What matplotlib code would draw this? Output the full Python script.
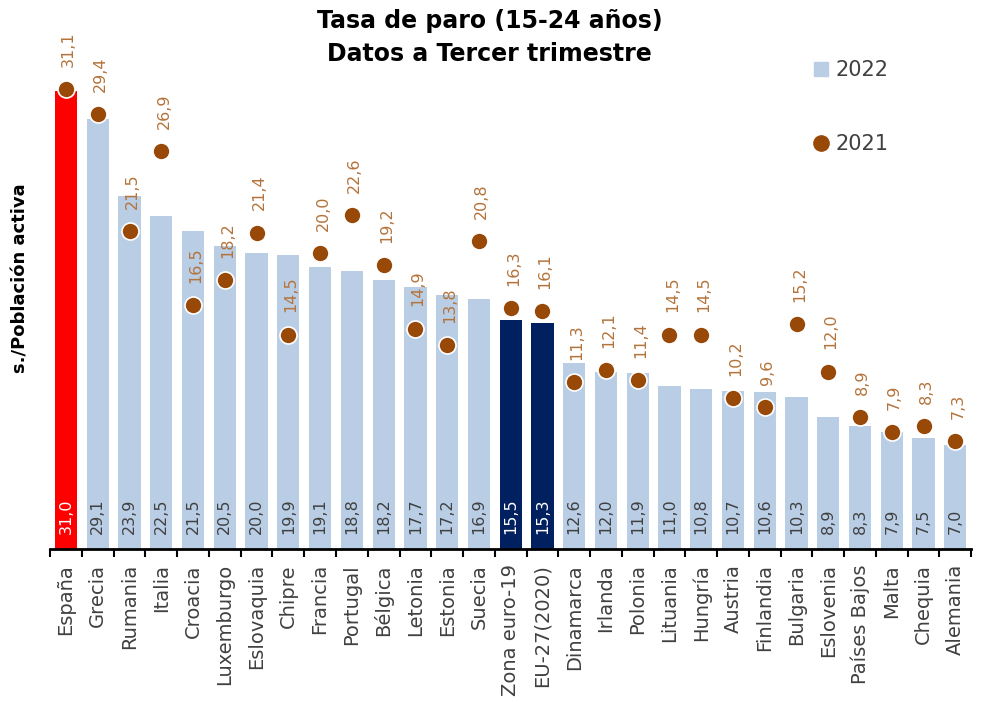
import matplotlib.pyplot as plt
from matplotlib.lines import Line2D
from matplotlib.ticker import FixedLocator

plt.rcParams["font.family"] = ["DejaVu Sans"]

countries = [
    "España", "Grecia", "Rumania", "Italia", "Croacia", "Luxemburgo",
    "Eslovaquia", "Chipre", "Francia", "Portugal", "Bélgica", "Letonia",
    "Estonia", "Suecia", "Zona euro-19", "EU-27(2020)", "Dinamarca", "Irlanda",
    "Polonia", "Lituania", "Hungría", "Austria", "Finlandia", "Bulgaria",
    "Eslovenia", "Países Bajos", "Malta", "Chequia", "Alemania",
]
values_2022 = [
    31.0, 29.1, 23.9, 22.5, 21.5, 20.5, 20.0, 19.9, 19.1, 18.8, 18.2, 17.7,
    17.2, 16.9, 15.5, 15.3, 12.6, 12.0, 11.9, 11.0, 10.8, 10.7, 10.6, 10.3,
    8.9, 8.3, 7.9, 7.5, 7.0,
]
values_2021 = [
    31.1, 29.4, 21.5, 26.9, 16.5, 18.2, 21.4, 14.5, 20.0, 22.6, 19.2, 14.9,
    13.8, 20.8, 16.3, 16.1, 11.3, 12.1, 11.4, 14.5, 14.5, 10.2, 9.6, 15.2,
    12.0, 8.9, 7.9, 8.3, 7.3,
]

LIGHT = "#b9cde5"
RED = "#ff0000"
NAVY = "#002060"
BROWN = "#984807"
LABEL_BROWN = "#b5733a"
GREY = "#404040"

highlight = {"España": RED, "Zona euro-19": NAVY, "EU-27(2020)": NAVY}


def fmt(v):
    return f"{v:.1f}".replace(".", ",")


fig = plt.figure(figsize=(9.83, 7.02), dpi=100)
ax = fig.add_axes([0.051, 0.218, 0.937, 0.716])

x = list(range(len(countries)))
colors = [highlight.get(c, LIGHT) for c in countries]
ax.bar(x, values_2022, width=0.7, color=colors, zorder=2)
ax.scatter(x, values_2021, s=150, color=BROWN, edgecolor="white",
           linewidth=1.2, zorder=3)

for xi, c, v in zip(x, countries, values_2022):
    tc = "white" if c in highlight else GREY
    ax.annotate(fmt(v), (xi, 0), xytext=(0, 11), textcoords="offset points",
                rotation=90, ha="center", va="bottom", fontsize=11.5, color=tc)

for xi, v in zip(x, values_2021):
    ax.annotate(fmt(v), (xi, v), xytext=(2, 16), textcoords="offset points",
                rotation=90, ha="center", va="bottom", fontsize=11.5,
                color=LABEL_BROWN)

ax.set_xlim(-0.5, len(countries) - 0.5)
ax.set_ylim(0, 34)
ax.set_yticks([])
for side in ["top", "right", "left"]:
    ax.spines[side].set_visible(False)
ax.spines["bottom"].set_linewidth(2)

ax.set_xticks(x)
ax.set_xticklabels(countries, rotation=90, fontsize=14, color=GREY)
ax.tick_params(axis="x", which="major", length=0, pad=11)
ax.xaxis.set_minor_locator(FixedLocator([i - 0.5 for i in range(len(countries) + 1)]))
ax.tick_params(axis="x", which="minor", length=6, width=1.5, direction="out")

fig.text(0.021, 0.604, "s./Población activa", rotation=90, ha="center",
         va="center", fontsize=13, fontweight="bold")
fig.text(0.498, 0.987, "Tasa de paro (15-24 años)\nDatos a Tercer trimestre",
         ha="center", va="top", fontsize=17, fontweight="bold",
         linespacing=1.45)

handles = [
    Line2D([], [], marker="s", linestyle="none", color=LIGHT, markersize=10),
    Line2D([], [], marker="o", linestyle="none", color=BROWN, markersize=11),
]
leg = ax.legend(handles, ["2022", "2021"], loc="upper left",
                bbox_to_anchor=(0.805, 1.01), frameon=False, fontsize=15,
                labelspacing=2.6, handletextpad=0.2, handlelength=1.0)
for t in leg.get_texts():
    t.set_color(GREY)

fig.savefig("out.png", dpi=100)
